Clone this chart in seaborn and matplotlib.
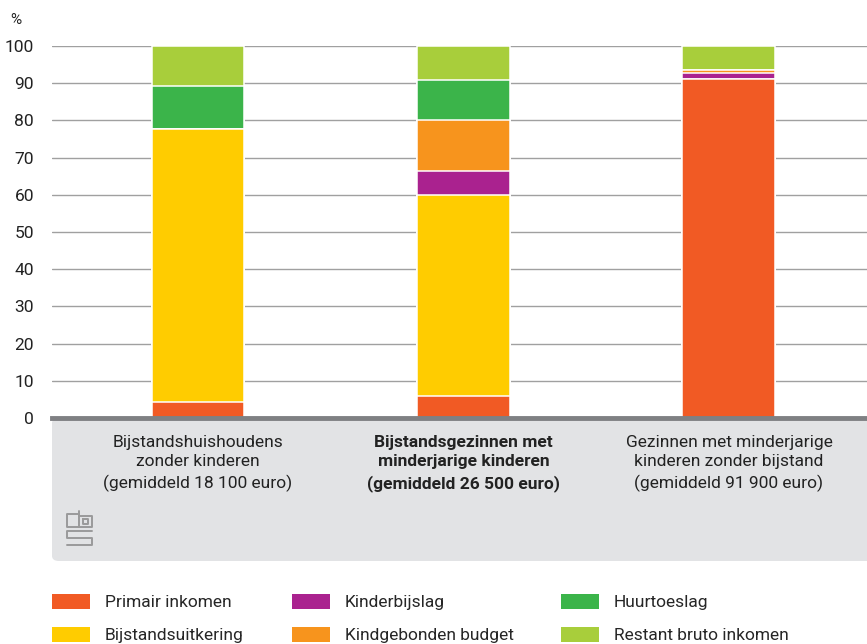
import matplotlib
matplotlib.use("Agg")
import matplotlib.pyplot as plt
import seaborn as sns
import pandas as pd
import numpy as np
from matplotlib.patches import Patch, FancyBboxPatch
from matplotlib.lines import Line2D

# data (share of gross income, %)
groups = ["Bijstandshuishoudens\nzonder kinderen\n(gemiddeld 18 100 euro)",
          "Bijstandsgezinnen met\nminderjarige kinderen\n(gemiddeld 26 500 euro)",
          "Gezinnen met minderjarige\nkinderen zonder bijstand\n(gemiddeld 91 900 euro)"]
components = ["Primair inkomen", "Bijstandsuitkering", "Kinderbijslag",
              "Kindgebonden budget", "Huurtoeslag", "Restant bruto inkomen"]
primair = [4.4, 6.0, 91.0]
bijstand = [73.2, 53.9, 0.0]
kinderbijslag = [0.0, 6.5, 1.8]
kgb = [0.0, 13.7, 0.7]
huurtoeslag = [11.6, 10.8, 0.1]
restant = [10.8, 9.1, 6.4]

colors = ["#F15A24", "#FFCC00", "#AA228F", "#F7941D", "#3BB44A", "#A8CE3B"]

sns.set_theme(style="white")
plt.rcParams["font.family"] = ["Roboto", "DejaVu Sans"]

series = [primair, bijstand, kinderbijslag, kgb, huurtoeslag, restant]
cum = np.cumsum(np.array(series), axis=0)
df = pd.DataFrame(cum.T, columns=components)
df["groep"] = groups

fig = plt.figure(figsize=(8.67, 6.44), dpi=100)
W, H = 867, 644

def fx(px):
    return px / W

def fy(py):
    return 1 - py / H

# grey panel under the axis
panel = FancyBboxPatch((fx(52), fy(561)), fx(W - 52) + 0.02, (561 - 418) / H,
                       boxstyle="round,pad=0,rounding_size=0.008",
                       transform=fig.transFigure, facecolor="#E2E3E5",
                       edgecolor="none", zorder=-1)
fig.patches.append(panel)

ax = fig.add_axes([fx(52), fy(418), fx(W - 52), (418 - 46) / H])
ax.patch.set_alpha(0)

# stacked bars: draw cumulative totals from top to bottom
for comp, col in reversed(list(zip(components, colors))):
    sns.barplot(data=df, x="groep", y=comp, color=col, width=0.35,
                edgecolor="white", linewidth=1.1, ax=ax, zorder=3,
                saturation=1)

ax.set_ylim(0, 100)
ax.set_xlim(-0.55, 2.52)
ax.set_yticks(range(0, 101, 10))
ax.yaxis.grid(True, color="#A0A0A0", linewidth=1)
ax.set_axisbelow(True)
for s in ["top", "right", "left"]:
    ax.spines[s].set_visible(False)
ax.spines["bottom"].set_color("#7F8083")
ax.spines["bottom"].set_linewidth(3.5)
ax.spines["bottom"].set_zorder(5)
ax.set_xlabel("")
ax.set_ylabel("")
ax.tick_params(axis="y", length=0, pad=13, labelsize=12.5, colors="#222222")
ax.tick_params(axis="x", length=0, pad=12, labelsize=12.5, colors="#222222")
labels = ax.get_xticklabels()
for lab in labels:
    lab.set_linespacing(1.4)
labels[1].set_fontweight("bold")

fig.text(fx(10), fy(20), "%", fontsize=11, color="#222222", va="center")

# cbs logo (simple outline)
logo = [
    [(79, 514), (67, 514), (67, 527), (79, 527)],
    [(79, 511), (79, 527), (92, 527), (92, 516), (79, 516)],
    [(83, 519), (88, 519), (88, 524), (83, 524), (83, 519)],
    [(92, 531), (67, 531), (67, 538), (92, 538), (92, 545), (67, 545)],
]
for pts in logo:
    xs = [fx(p[0]) for p in pts]
    ys = [fy(p[1]) for p in pts]
    fig.add_artist(Line2D(xs, ys, color="#9A9A9A", linewidth=1.4,
                          transform=fig.transFigure))

handles = [Patch(facecolor=c, edgecolor="none", label=l)
           for c, l in zip(colors, components)]
fig.legend(handles=handles, ncol=3, loc="upper left",
           bbox_to_anchor=(fx(52), fy(594)), frameon=False,
           fontsize=12.5, handlelength=2.2, handleheight=0.95,
           handletextpad=0.85, columnspacing=2.75, labelspacing=0.95,
           borderaxespad=0, borderpad=0)

plt.savefig("out.png", dpi=100)
